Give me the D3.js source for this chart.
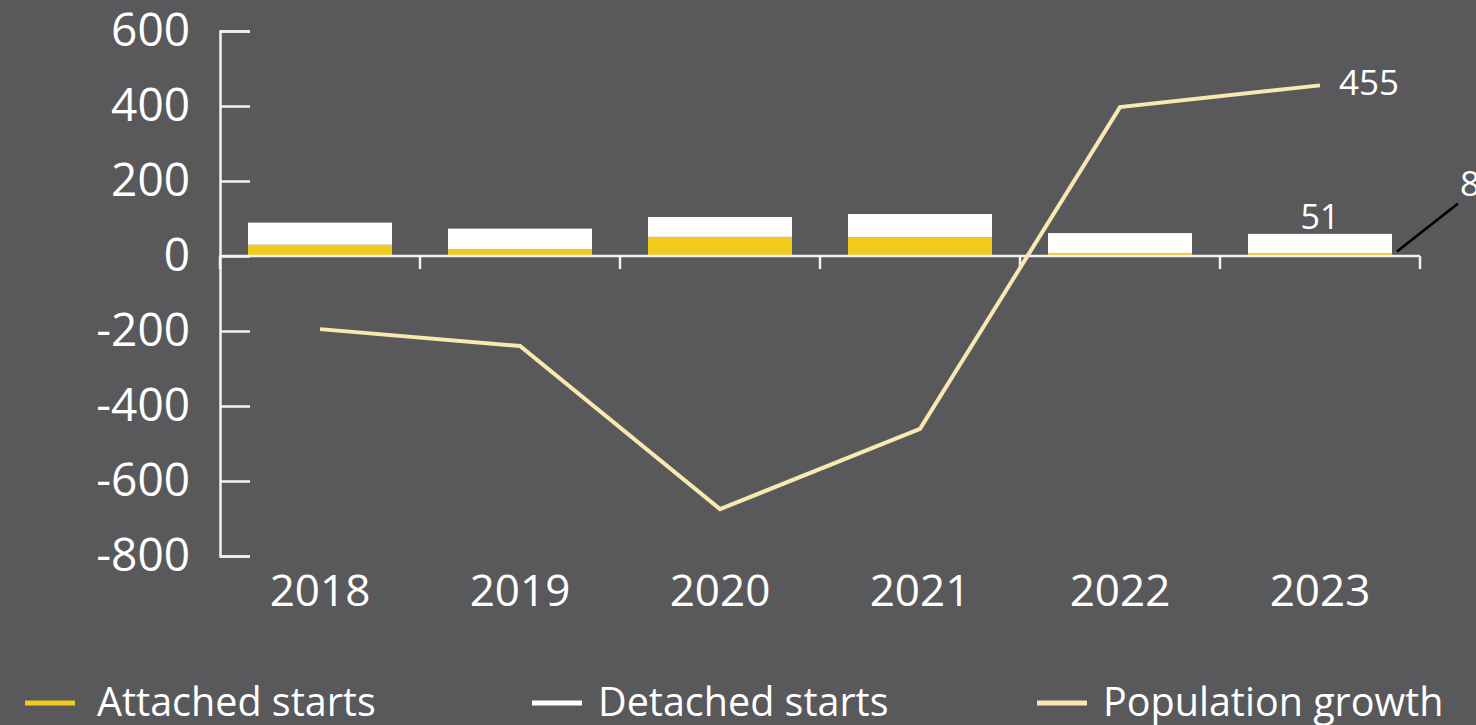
<!DOCTYPE html>
<html>
<head>
<meta charset="utf-8">
<script src="https://cdn.jsdelivr.net/npm/d3@7"></script>
<style>
  html, body { margin: 0; padding: 0; background: #59595b; }
  svg { display: block; }
  text { font-family: "Open Sans", "Noto Sans", sans-serif; fill: #ffffff; }
</style>
</head>
<body>
<svg id="chart" width="1476" height="725"></svg>
<script>
// Housing starts (stacked bars) against population growth (line)
const years = ["2018", "2019", "2020", "2021", "2022", "2023"];
const attachedStarts = [30, 18, 51, 50, 8, 8];
const detachedStarts = [59, 55, 53, 62, 53, 51];
const populationGrowth = [-195, -240, -675, -461, 397, 455];
const yTicks = [600, 400, 200, 0, -200, -400, -600, -800];
const legendLabels = ["Attached starts", "Detached starts", "Population growth"];

const colors = {
  attached: "#f0cb1b",
  detached: "#ffffff",
  population: "#f7e9b0",
  axis: "#f2f2f2"
};

const svg = d3.select("#chart");
const margin = { left: 220, right: 56, top: 31, plotBottom: 556 };

const x = d3.scaleBand()
  .domain(years)
  .range([margin.left, 1476 - margin.right])
  .paddingInner(0.28)
  .paddingOuter(0.14);

const y = d3.scaleLinear()
  .domain([-800, 600])
  .range([margin.plotBottom, margin.top]);

// Stacked bars: attached at the base, detached on top
const rows = years.map((yr, i) => ({
  year: yr,
  attached: attachedStarts[i],
  detached: detachedStarts[i]
}));
const stack = d3.stack().keys(["attached", "detached"]);
const layers = stack(rows);

svg.append("g")
  .selectAll("g")
  .data(layers)
  .join("g")
  .attr("fill", d => colors[d.key])
  .selectAll("rect")
  .data(d => d)
  .join("rect")
  .attr("x", d => x(d.data.year))
  .attr("width", x.bandwidth())
  .attr("y", d => y(d[1]))
  .attr("height", d => y(d[0]) - y(d[1]));

// Y axis: ticks pointing into the plot, labels on the left
const yAxis = d3.axisLeft(y)
  .tickValues(yTicks)
  .tickSizeInner(-30)
  .tickSizeOuter(-30)
  .tickPadding(30)
  .tickFormat(d => String(d));

const gy = svg.append("g")
  .attr("transform", `translate(${margin.left},0)`)
  .call(yAxis);
gy.select(".domain").attr("stroke", colors.axis).attr("stroke-width", 2.5);
gy.selectAll(".tick line").attr("stroke", colors.axis).attr("stroke-width", 2.5);
gy.selectAll(".tick text")
  .attr("font-size", 46)
  .attr("font-family", "\"Open Sans\", sans-serif")
  .attr("fill", "#ffffff");

// X axis along zero, with ticks at the band boundaries
const step = x.step();
const half = step * x.paddingInner() / 2;
const boundaries = years.map(yr => x(yr) - half).concat([x(years[years.length - 1]) + x.bandwidth() + half]);

const gx = svg.append("g");
gx.append("line")
  .attr("x1", boundaries[0]).attr("x2", boundaries[boundaries.length - 1])
  .attr("y1", y(0)).attr("y2", y(0))
  .attr("stroke", colors.axis).attr("stroke-width", 2.5);
gx.selectAll("line.tick")
  .data(boundaries)
  .join("line")
  .attr("class", "tick")
  .attr("x1", d => d).attr("x2", d => d)
  .attr("y1", y(0)).attr("y2", y(0) + 13)
  .attr("stroke", colors.axis).attr("stroke-width", 2.5);

// Year labels below the plot
svg.append("g")
  .selectAll("text")
  .data(years)
  .join("text")
  .attr("x", d => x(d) + x.bandwidth() / 2)
  .attr("y", 606)
  .attr("text-anchor", "middle")
  .attr("font-size", 44)
  .text(d => d);

// Population growth line through the band centres
const line = d3.line()
  .x((d, i) => x(years[i]) + x.bandwidth() / 2)
  .y(d => y(d));

svg.append("path")
  .datum(populationGrowth)
  .attr("d", line)
  .attr("fill", "none")
  .attr("stroke", colors.population)
  .attr("stroke-width", 4);

// Value labels for the latest year
const last = years.length - 1;
const cx = x(years[last]) + x.bandwidth() / 2;

svg.append("text")
  .attr("x", cx + 19)
  .attr("y", y(populationGrowth[last]) + 10)
  .attr("font-size", 35)
  .text(populationGrowth[last]);

svg.append("text")
  .attr("x", cx)
  .attr("y", y(attachedStarts[last] + detachedStarts[last]) - 5)
  .attr("text-anchor", "middle")
  .attr("font-size", 34)
  .text(detachedStarts[last]);

// Leader line for the small attached value
const barRight = x(years[last]) + x.bandwidth();
svg.append("line")
  .attr("x1", barRight + 5).attr("y1", y(attachedStarts[last] / 2) - 3)
  .attr("x2", barRight + 66).attr("y2", y(attachedStarts[last] / 2) - 51)
  .attr("stroke", "#000000").attr("stroke-width", 2.5);
svg.append("text")
  .attr("x", barRight + 68)
  .attr("y", y(attachedStarts[last] / 2) - 59)
  .attr("font-size", 35)
  .text(attachedStarts[last]);

// Legend
const legendX = [25, 532, 1037];
const legendTextX = [72, 66, 66];
const legendColors = [colors.attached, colors.detached, colors.population];
const lg = svg.append("g")
  .selectAll("g")
  .data(legendLabels)
  .join("g")
  .attr("transform", (d, i) => `translate(${legendX[i]},703)`);
lg.append("line")
  .attr("x1", 0).attr("x2", 50)
  .attr("stroke", (d, i) => legendColors[i])
  .attr("stroke-width", 5);
lg.append("text")
  .attr("x", (d, i) => legendTextX[i])
  .attr("y", 13)
  .attr("font-size", 39.5)
  .text(d => d);
</script>
</body>
</html>
